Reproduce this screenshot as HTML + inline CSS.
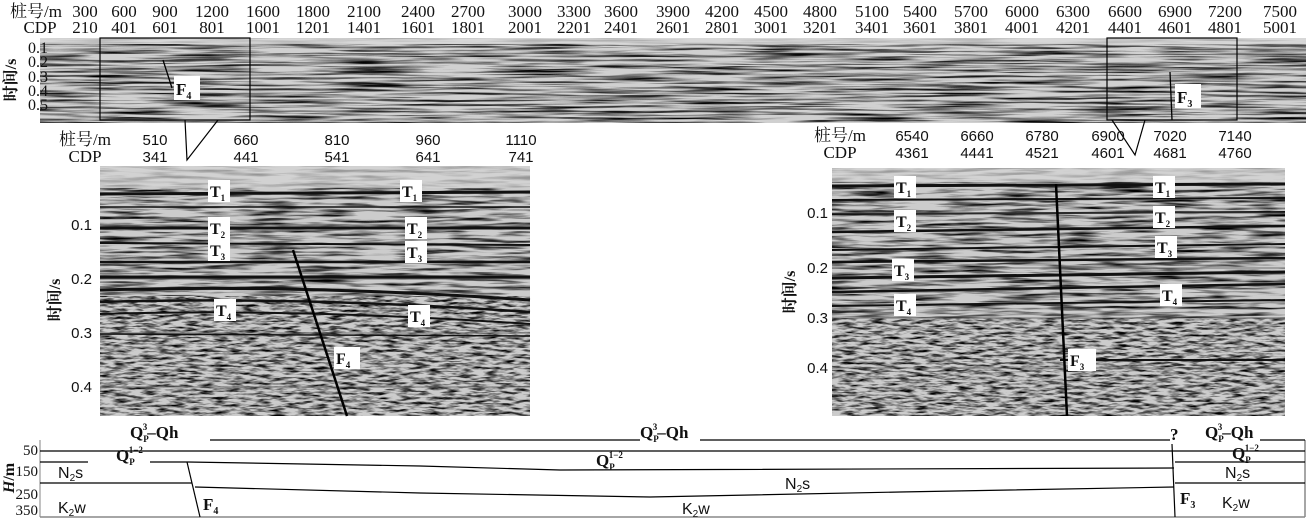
<!DOCTYPE html>
<html><head><meta charset="utf-8"><style>
body{margin:0;background:#fff}
svg{display:block}
text{font-family:"Liberation Serif","Noto Serif CJK SC",serif;fill:#111}
.s{font-family:"Liberation Sans",sans-serif}
</style></head><body>
<svg width="1311" height="528" viewBox="0 0 1311 528" xmlns="http://www.w3.org/2000/svg">
<defs>
<filter id="seisA" x="0" y="0" width="100%" height="100%">
<feTurbulence type="fractalNoise" baseFrequency="0.012 0.45" numOctaves="3" seed="3"/>
<feColorMatrix type="matrix" values="0 0 0 0 0  0 0 0 0 0  0 0 0 0 0  -2.6 0 0 0 1.55"/>
</filter>
<filter id="seisB" x="0" y="0" width="100%" height="100%">
<feTurbulence type="fractalNoise" baseFrequency="0.07 0.4" numOctaves="3" seed="7"/>
<feColorMatrix type="matrix" values="0 0 0 0 0  0 0 0 0 0  0 0 0 0 0  -2.6 0 0 0 1.55"/>
</filter>
<filter id="seisC" x="0" y="0" width="100%" height="100%">
<feTurbulence type="fractalNoise" baseFrequency="0.02 0.3" numOctaves="3" seed="11"/>
<feColorMatrix type="matrix" values="0 0 0 0 0  0 0 0 0 0  0 0 0 0 0  -2.6 0 0 0 1.5"/>
</filter>
</defs>

<!-- top labels -->
<g font-size="17" text-anchor="middle">
<text x="36" y="17">桩号/m</text><text x="40" y="33">CDP</text>
<text x="85" y="17">300</text><text x="85" y="33">210</text>
<text x="124" y="17">600</text><text x="124" y="33">401</text>
<text x="165" y="17">900</text><text x="165" y="33">601</text>
<text x="212" y="17">1200</text><text x="212" y="33">801</text>
<text x="263" y="17">1600</text><text x="263" y="33">1001</text>
<text x="313" y="17">1800</text><text x="313" y="33">1201</text>
<text x="364" y="17">2100</text><text x="364" y="33">1401</text>
<text x="418" y="17">2400</text><text x="418" y="33">1601</text>
<text x="468" y="17">2700</text><text x="468" y="33">1801</text>
<text x="525" y="17">3000</text><text x="525" y="33">2001</text>
<text x="574" y="17">3300</text><text x="574" y="33">2201</text>
<text x="621" y="17">3600</text><text x="621" y="33">2401</text>
<text x="673" y="17">3900</text><text x="673" y="33">2601</text>
<text x="722" y="17">4200</text><text x="722" y="33">2801</text>
<text x="771" y="17">4500</text><text x="771" y="33">3001</text>
<text x="820" y="17">4800</text><text x="820" y="33">3201</text>
<text x="872" y="17">5100</text><text x="872" y="33">3401</text>
<text x="920" y="17">5400</text><text x="920" y="33">3601</text>
<text x="971" y="17">5700</text><text x="971" y="33">3801</text>
<text x="1022" y="17">6000</text><text x="1022" y="33">4001</text>
<text x="1073" y="17">6300</text><text x="1073" y="33">4201</text>
<text x="1125" y="17">6600</text><text x="1125" y="33">4401</text>
<text x="1175" y="17">6900</text><text x="1175" y="33">4601</text>
<text x="1225" y="17">7200</text><text x="1225" y="33">4801</text>
<text x="1280" y="17">7500</text><text x="1280" y="33">5001</text>
</g>
<!-- top seismic -->
<rect x="40" y="38" width="1266" height="85" fill="#d0d0d0"/>
<rect x="40" y="38" width="1266" height="85" filter="url(#seisA)"/>
<rect x="40" y="38" width="1266" height="6" fill="#d8d8d8" opacity=".8"/>
<g font-size="16" text-anchor="end"><text x="48" y="53">0.1</text><text x="48" y="67">0.2</text><text x="48" y="82">0.3</text><text x="48" y="96">0.4</text><text x="48" y="110">0.5</text></g>
<text transform="translate(16,80) rotate(-90)" font-size="16" text-anchor="middle" font-weight="bold">时间/s</text>
<rect x="100" y="38" width="150" height="82" fill="none" stroke="#000" stroke-width="1.2"/>
<rect x="1107" y="38" width="130" height="82" fill="none" stroke="#000" stroke-width="1.2"/>
<line x1="163" y1="60" x2="172" y2="88" stroke="#000" stroke-width="1.3"/>
<rect x="174" y="76" width="26" height="24" fill="#fff"/><text x="176" y="95" font-size="17" font-weight="bold">F<tspan font-size="10" dy="4">4</tspan></text>
<line x1="1170" y1="72" x2="1172" y2="120" stroke="#000" stroke-width="1.3"/>
<rect x="1175" y="84" width="26" height="24" fill="#fff"/><text x="1177" y="103" font-size="17" font-weight="bold">F<tspan font-size="10" dy="4">3</tspan></text>
<!-- connectors -->
<polyline points="185,120 187,160 218,120" fill="none" stroke="#000" stroke-width="1.2"/>
<polyline points="1112,120 1135,155 1145,120" fill="none" stroke="#000" stroke-width="1.2"/>

<!-- left zoom panel -->
<g font-size="15" text-anchor="middle">
<text x="85" y="145" font-size="17">桩号/m</text><text x="85" y="162" font-size="17">CDP</text>
<text x="155" y="145" class="s">510</text><text x="155" y="162" class="s">341</text>
<text x="246" y="145" class="s">660</text><text x="246" y="162" class="s">441</text>
<text x="337" y="145" class="s">810</text><text x="337" y="162" class="s">541</text>
<text x="428" y="145" class="s">960</text><text x="428" y="162" class="s">641</text>
<text x="521" y="145" class="s">1110</text><text x="521" y="162" class="s">741</text>
</g>
<rect x="100" y="166" width="430" height="250" fill="#cccccc"/>
<rect x="100" y="166" width="430" height="130" filter="url(#seisC)"/>
<rect x="100" y="296" width="430" height="120" filter="url(#seisB)"/>
<rect x="100" y="166" width="430" height="22" fill="#d4d4d4" opacity=".7"/>
<g stroke="#111" fill="none">
<path d="M100 194 L530 192" stroke-width="3"/>
<path d="M100 207 L530 207" stroke-width="1.5"/>
<path d="M100 228 L530 228" stroke-width="3"/>
<path d="M100 243 L530 245" stroke-width="2"/>
<path d="M100 262 L530 262" stroke-width="2.5"/>
<path d="M100 277 L530 277" stroke-width="3"/>
<path d="M100 290 Q300 284 530 300" stroke-width="3"/>
<path d="M100 302 Q300 296 530 312" stroke-width="2.5"/>
<path d="M100 314 Q300 308 530 324" stroke-width="2"/>
<path d="M100 334 L530 336" stroke-width="1.5"/>
</g>
<g stroke="#555" stroke-width=".7"><line x1="100" y1="225" x2="530" y2="225"/><line x1="100" y1="279" x2="530" y2="279"/><line x1="100" y1="333" x2="530" y2="333"/><line x1="100" y1="387" x2="530" y2="387"/></g>
<line x1="293" y1="250" x2="347" y2="416" stroke="#000" stroke-width="2.5"/>
<g font-size="15" text-anchor="end" class="s"><text x="92" y="230" class="s">0.1</text><text x="92" y="284" class="s">0.2</text><text x="92" y="338" class="s">0.3</text><text x="92" y="392" class="s">0.4</text></g>
<text transform="translate(60,300) rotate(-90)" font-size="16" text-anchor="middle" font-weight="bold">时间/s</text>
<g font-size="16" font-weight="bold">
<rect x="208" y="180" width="22" height="22" fill="#fff"/><text x="210" y="197">T<tspan font-size="9" dy="4">1</tspan></text>
<rect x="400" y="180" width="22" height="22" fill="#fff"/><text x="402" y="197">T<tspan font-size="9" dy="4">1</tspan></text>
<rect x="208" y="217" width="22" height="22" fill="#fff"/><text x="210" y="234">T<tspan font-size="9" dy="4">2</tspan></text>
<rect x="405" y="217" width="22" height="22" fill="#fff"/><text x="407" y="234">T<tspan font-size="9" dy="4">2</tspan></text>
<rect x="208" y="239" width="22" height="22" fill="#fff"/><text x="210" y="256">T<tspan font-size="9" dy="4">3</tspan></text>
<rect x="405" y="241" width="22" height="22" fill="#fff"/><text x="407" y="258">T<tspan font-size="9" dy="4">3</tspan></text>
<rect x="214" y="299" width="22" height="22" fill="#fff"/><text x="216" y="316">T<tspan font-size="9" dy="4">4</tspan></text>
<rect x="408" y="305" width="22" height="22" fill="#fff"/><text x="410" y="322">T<tspan font-size="9" dy="4">4</tspan></text>
<rect x="334" y="347" width="26" height="22" fill="#fff"/><text x="336" y="364">F<tspan font-size="9" dy="4">4</tspan></text>
</g>

<!-- right zoom panel -->
<g font-size="15" text-anchor="middle">
<text x="840" y="141" font-size="17">桩号/m</text><text x="840" y="158" font-size="17">CDP</text>
<text x="912" y="141" class="s">6540</text><text x="912" y="158" class="s">4361</text>
<text x="977" y="141" class="s">6660</text><text x="977" y="158" class="s">4441</text>
<text x="1042" y="141" class="s">6780</text><text x="1042" y="158" class="s">4521</text>
<text x="1108" y="141" class="s">6900</text><text x="1108" y="158" class="s">4601</text>
<text x="1170" y="141" class="s">7020</text><text x="1170" y="158" class="s">4681</text>
<text x="1235" y="141" class="s">7140</text><text x="1235" y="158" class="s">4760</text>
</g>
<rect x="832" y="168" width="453" height="248" fill="#cccccc"/>
<rect x="832" y="168" width="453" height="150" filter="url(#seisC)"/>
<rect x="832" y="318" width="453" height="98" filter="url(#seisB)"/>
<rect x="832" y="168" width="453" height="14" fill="#d4d4d4" opacity=".7"/>
<g stroke="#111" fill="none">
<path d="M832 186 L1285 184" stroke-width="3"/>
<path d="M832 200 L1285 198" stroke-width="2"/>
<path d="M832 214 L1285 212" stroke-width="2"/>
<path d="M832 232 L1285 226" stroke-width="2.5"/>
<path d="M832 250 L1285 244" stroke-width="2"/>
<path d="M832 262 L1285 258" stroke-width="2.5"/>
<path d="M832 278 L1285 272" stroke-width="3"/>
<path d="M832 292 L1285 284" stroke-width="2.5"/>
<path d="M832 306 L1285 300" stroke-width="2"/>
<path d="M1060 360 L1285 360" stroke-width="2"/>
</g>
<g stroke="#555" stroke-width=".7"><line x1="832" y1="213" x2="1285" y2="213"/><line x1="832" y1="268" x2="1285" y2="268"/><line x1="832" y1="318" x2="1285" y2="318"/><line x1="832" y1="368" x2="1285" y2="368"/></g>
<line x1="1056" y1="184" x2="1067" y2="416" stroke="#000" stroke-width="2.5"/>
<g font-size="15" text-anchor="end"><text x="828" y="218" class="s">0.1</text><text x="828" y="273" class="s">0.2</text><text x="828" y="323" class="s">0.3</text><text x="828" y="373" class="s">0.4</text></g>
<text transform="translate(795,292) rotate(-90)" font-size="16" text-anchor="middle" font-weight="bold">时间/s</text>
<g font-size="16" font-weight="bold">
<rect x="894" y="176" width="22" height="22" fill="#fff"/><text x="896" y="193">T<tspan font-size="9" dy="4">1</tspan></text>
<rect x="1153" y="176" width="22" height="22" fill="#fff"/><text x="1155" y="193">T<tspan font-size="9" dy="4">1</tspan></text>
<rect x="894" y="210" width="22" height="22" fill="#fff"/><text x="896" y="227">T<tspan font-size="9" dy="4">2</tspan></text>
<rect x="1153" y="206" width="22" height="22" fill="#fff"/><text x="1155" y="223">T<tspan font-size="9" dy="4">2</tspan></text>
<rect x="892" y="259" width="22" height="22" fill="#fff"/><text x="894" y="276">T<tspan font-size="9" dy="4">3</tspan></text>
<rect x="1155" y="236" width="22" height="22" fill="#fff"/><text x="1157" y="253">T<tspan font-size="9" dy="4">3</tspan></text>
<rect x="894" y="294" width="22" height="22" fill="#fff"/><text x="896" y="311">T<tspan font-size="9" dy="4">4</tspan></text>
<rect x="1160" y="284" width="22" height="22" fill="#fff"/><text x="1162" y="301">T<tspan font-size="9" dy="4">4</tspan></text>
<rect x="1068" y="349" width="28" height="22" fill="#fff"/><text x="1070" y="366">F<tspan font-size="9" dy="4">3</tspan></text>
</g>

<!-- geological section -->
<g fill="none" stroke="#000" stroke-width="1.2">
<line x1="40" y1="440" x2="40" y2="517" stroke="#999"/>
<line x1="40" y1="517" x2="1305" y2="517" stroke="#888" stroke-width="1.5"/>
<line x1="1305" y1="440" x2="1305" y2="517" stroke="#888" stroke-width="1.5"/>
<line x1="210" y1="440" x2="640" y2="440"/>
<line x1="700" y1="440" x2="1170" y2="440"/>
<line x1="1260" y1="440" x2="1305" y2="440"/>
<line x1="40" y1="451" x2="1305" y2="451"/>
<polyline points="40,462 88,462"/>
<polyline points="150,462 188,462 420,466 560,470 1174,468"/>
<line x1="1175" y1="462" x2="1305" y2="462"/>
<line x1="40" y1="483" x2="192" y2="483"/>
<polyline points="195,487 420,493 650,497 900,492 1174,487"/>
<line x1="1175" y1="483" x2="1305" y2="483"/>
<line x1="187" y1="462" x2="200" y2="517"/>
<line x1="1172" y1="444" x2="1175" y2="517"/>
</g>
<g font-size="17" font-weight="bold">
<text x="130" y="438">Q<tspan font-size="9" dy="4">P</tspan><tspan font-size="9" dx="-6" dy="-12">3</tspan><tspan dy="8">–Qh</tspan></text>
<text x="640" y="438">Q<tspan font-size="9" dy="4">P</tspan><tspan font-size="9" dx="-6" dy="-12">3</tspan><tspan dy="8">–Qh</tspan></text>
<text x="1205" y="438">Q<tspan font-size="9" dy="4">P</tspan><tspan font-size="9" dx="-6" dy="-12">3</tspan><tspan dy="8">–Qh</tspan></text>
<text x="1170" y="440">?</text>
<text x="116" y="461">Q<tspan font-size="9" dy="4">P</tspan><tspan font-size="9" dx="-6" dy="-12">1−2</tspan></text>
<text x="596" y="466">Q<tspan font-size="9" dy="4">P</tspan><tspan font-size="9" dx="-6" dy="-12">1−2</tspan></text>
<text x="1232" y="459">Q<tspan font-size="9" dy="4">P</tspan><tspan font-size="9" dx="-6" dy="-12">1−2</tspan></text>
<text x="203" y="510">F<tspan font-size="10" dy="4">4</tspan></text>
<text x="1180" y="504">F<tspan font-size="10" dy="4">3</tspan></text>
</g>
<g font-size="16">
<text x="58" y="478" class="s">N<tspan font-size="10" dy="3">2</tspan><tspan dy="-3">s</tspan></text>
<text x="785" y="489" class="s">N<tspan font-size="10" dy="3">2</tspan><tspan dy="-3">s</tspan></text>
<text x="1225" y="478" class="s">N<tspan font-size="10" dy="3">2</tspan><tspan dy="-3">s</tspan></text>
<text x="58" y="513" class="s">K<tspan font-size="10" dy="3">2</tspan><tspan dy="-3">w</tspan></text>
<text x="682" y="514" class="s">K<tspan font-size="10" dy="3">2</tspan><tspan dy="-3">w</tspan></text>
<text x="1222" y="508" class="s">K<tspan font-size="10" dy="3">2</tspan><tspan dy="-3">w</tspan></text>
</g>
<g font-size="15" text-anchor="end"><text x="38" y="455">50</text><text x="38" y="476">150</text><text x="38" y="499">250</text><text x="38" y="515">350</text></g>
<text transform="translate(14,478) rotate(-90)" font-size="16" text-anchor="middle" font-weight="bold"><tspan font-style="italic">H</tspan>/m</text>
</svg>
</body></html>
